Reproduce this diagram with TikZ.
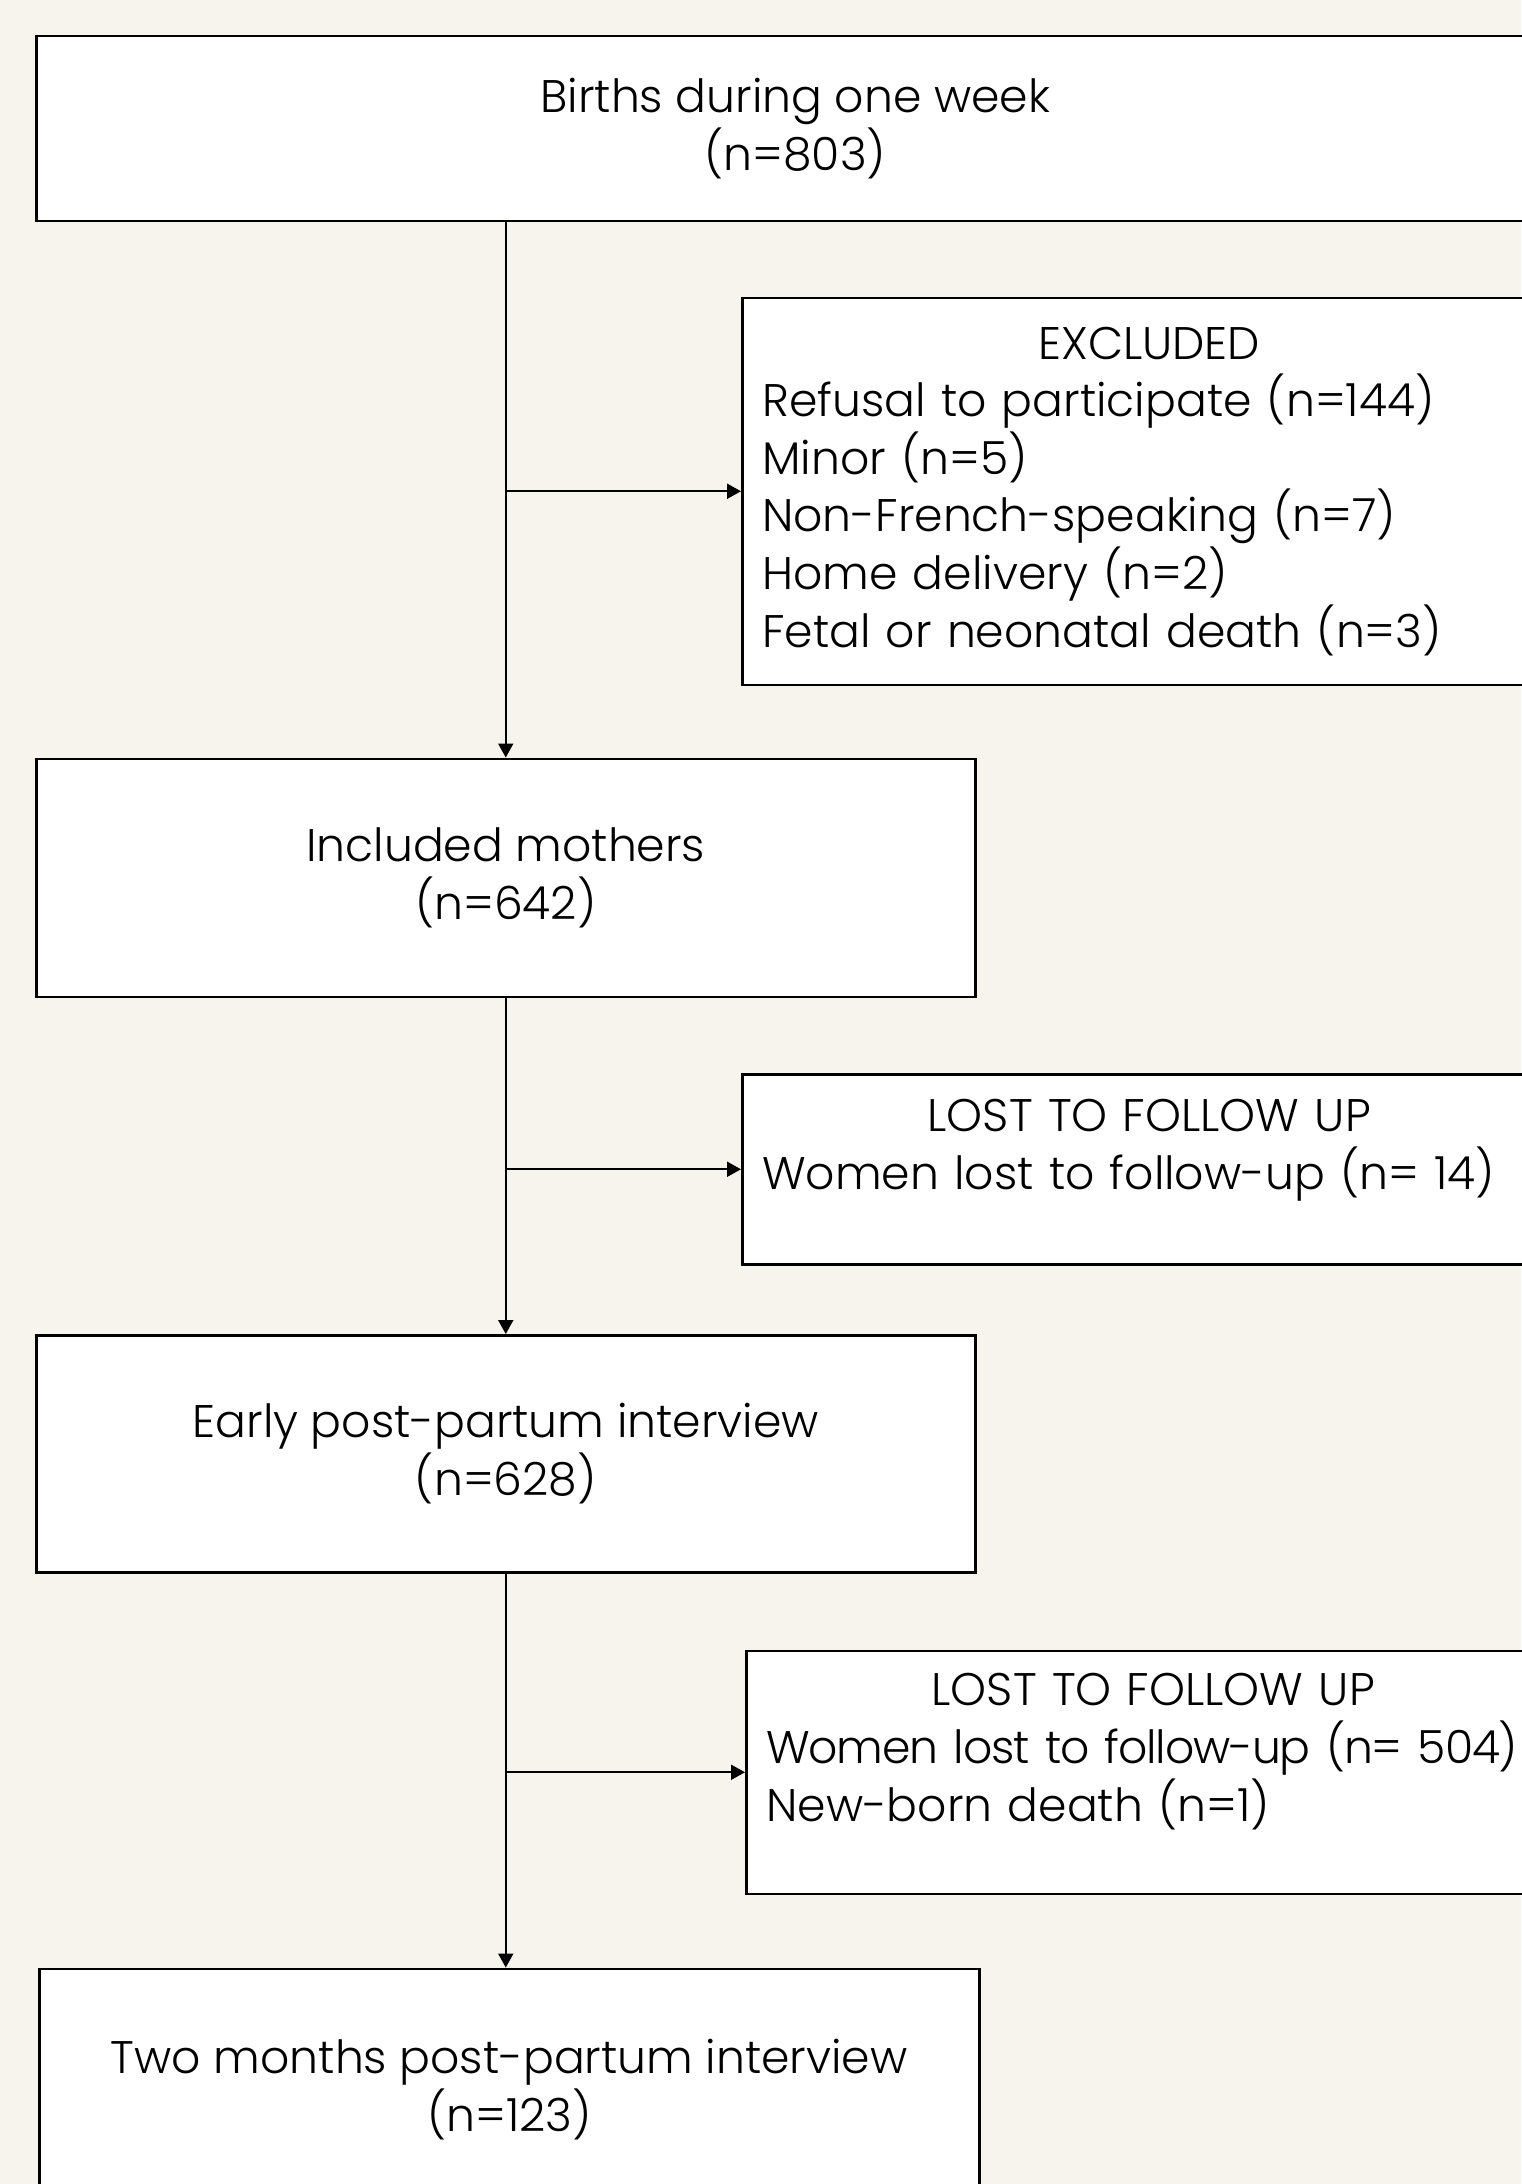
\documentclass[tikz,border=0pt]{standalone}
\usepackage{fontspec}
\setmainfont{Poppins}[UprightFont=* Light]
\usetikzlibrary{arrows.meta, positioning}
\definecolor{paper}{RGB}{247,244,237}
\newcommand{\stagefont}{\fontsize{26pt}{32.8pt}\selectfont}
\newcommand{\boxtitle}[1]{\makebox[\linewidth]{#1}}
\newcommand{\bottomgap}{\rule[-1cm]{0pt}{1cm}}
\tikzset{
    stage/.style={rectangle, draw=black, fill=white, line width=0.05cm,
                  align=center, inner sep=0pt, font=\stagefont},
    sidebox/.style={rectangle, draw=black, fill=white, line width=0.05cm,
                    align=left, text width=15.48cm, inner xsep=0.4cm,
                    minimum width=16.28cm, font=\stagefont},
    arrow/.style={-{Triangle[length=0.28cm, width=0.3cm]}, line width=0.04cm, draw=black},
}

\begin{document}
\begin{tikzpicture}
    \path[use as bounding box, fill=paper] (0,0) rectangle (30.42,-43.68);

    % Main column
    \node[stage, anchor=north west, minimum width=30.36cm, minimum height=3.7cm] (births) at (0.7,-0.7)
        {Births during one week\\(n=803)};
    \node[stage, below=10.7cm of births.south west, anchor=north west,
          minimum width=18.78cm, minimum height=4.76cm] (incl) {Included mothers\\(n=642)};
    \node[stage, below=6.72cm of incl.south west, anchor=north west,
          minimum width=18.78cm, minimum height=4.74cm] (early) {Early post-partum interview\\(n=628)};
    \node[stage, below=7.88cm of early.south west, anchor=north west, xshift=0.06cm,
          minimum width=18.8cm, minimum height=4.84cm] (twomonths) {Two months post-partum interview\\(n=123)};

    % Side boxes
    \node[sidebox, below right=1.48cm and 14.12cm of births.south west, minimum height=7.74cm] (excl)
        {\boxtitle{EXCLUDED}\\Refusal to participate (n=144)\\Minor (n=5)\\Non-French-speaking (n=7)\\Home delivery (n=2)\\Fetal or neonatal death (n=3)};
    \node[sidebox, below right=1.5cm and 14.12cm of incl.south west, minimum height=3.8cm] (lost1)
        {\boxtitle{LOST TO FOLLOW UP}\\Women lost to follow-up (n= 14)\bottomgap};
    \node[sidebox, below right=1.52cm and 14.2cm of early.south west, minimum height=4.86cm] (lost2)
        {\boxtitle{LOST TO FOLLOW UP}\\\mbox{\addfontfeature{LetterSpace=-2.5}Women lost to follow-up (n= 504)}\\New-born death (n=1)\bottomgap};

    % Arrows
    \draw[arrow] (births.south -| incl.north) -- (incl.north);
    \draw[arrow] (excl.west -| incl.north) -- (excl.west);
    \draw[arrow] (incl.south) -- (early.north);
    \draw[arrow] (lost1.west -| incl.south) -- (lost1.west);
    \draw[arrow] (early.south) -- (early.south |- twomonths.north);
    \draw[arrow] (lost2.west -| early.south) -- (lost2.west);
\end{tikzpicture}
\end{document}
